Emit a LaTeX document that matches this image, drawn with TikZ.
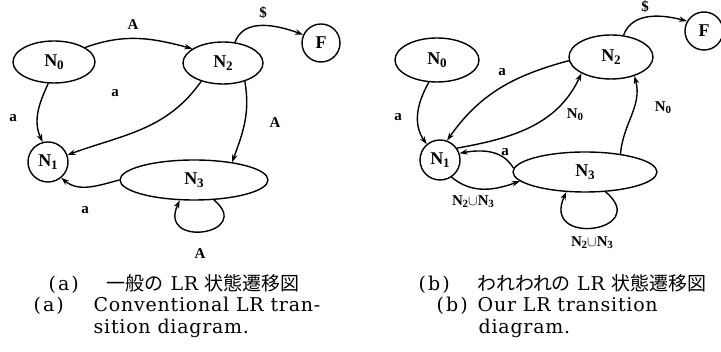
\documentclass[tikz,border=0pt]{standalone}
\usepackage{fontspec}
\setmainfont{Liberation Serif}
\newfontfamily\jp{Noto Sans CJK JP}
\newfontfamily\jpp[RawFeature=+palt]{Noto Sans CJK JP}
\newfontfamily\capfont[LetterSpace=4]{DejaVu Serif}
\usetikzlibrary{arrows.meta,shapes.geometric}
\newcommand\NN[1]{N\kern-0.3pt\raisebox{-2.5pt}{\fontsize{13}{13}\selectfont #1}}
\newcommand\Ns[1]{N\kern-0.3pt\raisebox{-2pt}{\fontsize{11}{11}\selectfont #1}}
\newcommand\jpt[1]{{\fontsize{19}{19}\selectfont\jp #1}}
\newcommand\jpk[1]{{\fontsize{19}{19}\selectfont\jpp #1}}
\newcommand\pa[1]{(\kern2pt#1\kern2pt)}
\begin{document}
\begin{tikzpicture}[x=1pt,y=1pt,
  line width=1.4pt,
  ell/.style={draw, ellipse, inner sep=0pt, font=\fontsize{18}{18}\selectfont\bfseries},
  circ/.style={draw, circle, inner sep=0pt, font=\fontsize{18}{18}\selectfont\bfseries},
  arr/.style={-{Stealth[length=8pt,width=5.5pt]}},
  lab/.style={font=\fontsize{15}{15}\selectfont\bfseries, inner sep=0pt},
  captxt/.style={anchor=base west, inner sep=0pt, font=\fontsize{19}{19}\selectfont\capfont}
]
\useasboundingbox (0,0) rectangle (721,352);
% ---------- left diagram
\node[ell, minimum width=82, minimum height=42] (a0) at (54,290) {\NN{0}};
\node[ell, minimum width=80, minimum height=42] (a2) at (223,289) {\NN{2}};
\node[circ, minimum size=38] (aF) at (321,309) {F};
\node[circ, minimum size=40] (a1) at (48,190) {\NN{1}};
\node[ell, minimum width=148, minimum height=40] (a3) at (194,172) {\NN{3}};
\draw[arr] (a0.25) to[out=20,in=165] (a2.155);
\draw[arr] (a0.-105) to[out=-115,in=115] (a1.105);
\draw[arr] (a2.-140) to[out=-125,in=20] (a1.20);
\draw[arr] (a2.-40) to[out=-80,in=70] (a3.25);
\draw[arr] (a3.180) to[out=195,in=-40] (a1.-50);
\draw[arr] (a2.60) to[out=70,in=160] (aF.155);
\draw[arr] (a3.-45.5) to[out=-40,in=-115,looseness=4] (a3.-125.5);
\node[lab] (la1) at (133,327) {A};
\node[lab] (la2) at (13,234) {a};
\node[lab] (la3) at (115,259) {a};
\node[lab] (la4) at (275,229) {A};
\node[lab] (la5) at (85,142) {a};
\node[lab] (la6) at (263,339) {\$};
\node[lab] (la7) at (200,98) {A};
% ---------- right diagram
\node[ell, minimum width=84, minimum height=44] (b0) at (437,292) {\NN{0}};
\node[ell, minimum width=84, minimum height=44] (b2) at (611,295) {\NN{2}};
\node[circ, minimum size=38] (bF) at (704,321) {F};
\node[circ, minimum size=40] (b1) at (440,192) {\NN{1}};
\node[ell, minimum width=144, minimum height=40] (b3) at (585,180) {\NN{3}};
\draw[arr] (b0.-110) to[out=-120,in=125] (b1.130);
\draw[arr] (b2.185) to[out=195,in=55] (b1.70);
\draw[arr] (b1.35) to[out=10,in=-115] (b2.-151);
\draw[arr] (b3.27) to[out=85,in=-75] (b2.-39);
\draw[arr] (b3.177) to[out=120,in=10] (b1.19);
\draw[arr] (b1.-56) to[out=-40,in=200] (b3.188);
\draw[arr] (b3.-44) to[out=-40,in=-115,looseness=4] (b3.-133);
\draw[arr] (b2.60) to[out=70,in=165] (bF.150);
\node[lab] (lb1) at (398,235) {a};
\node[lab] (lb2) at (502,280) {a};
\node[lab] (lb3) at (575,237) {\Ns{0}};
\node[lab] (lb4) at (663,244) {\Ns{0}};
\node[lab] (lb5) at (505,200) {a};
\node[lab] (lb6) at (473,150) {\Ns{2}$\cup$\Ns{3}};
\node[lab] (lb7) at (592,109) {\Ns{2}$\cup$\Ns{3}};
\node[lab] (lb8) at (645,345) {\$};
% ---------- captions
\node[captxt] (c1a) at (48,61) {\pa{a}};
\node[captxt] (c1b) at (106,61) {\jpt{一般の} LR \jpt{状態遷移図}};
\node[captxt] (c2a) at (33,40) {\pa{a}};
\node[captxt] (c2b) at (93,40) {Conventional LR tran-};
\node[captxt] (c3) at (93,18) {sition diagram.};
\node[captxt] (c4a) at (418,61) {\pa{b}};
\node[captxt] (c4b) at (477,61) {\jpk{われわれの} LR \jpt{状態遷移図}};
\node[captxt] (c5a) at (436,40) {\pa{b}};
\node[captxt] (c5b) at (477,40) {Our LR transition};
\node[captxt] (c6) at (478,18) {diagram.};
\end{tikzpicture}
\end{document}
